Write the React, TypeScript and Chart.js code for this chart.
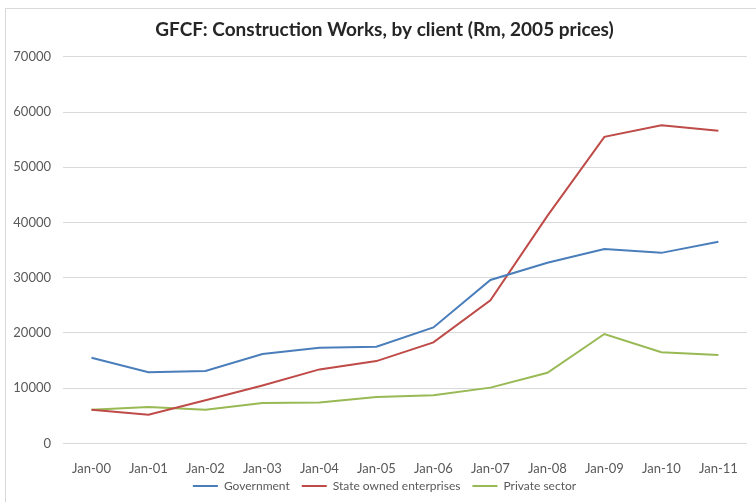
import React, { useEffect, useRef } from "react";
import { Chart, registerables } from "chart.js";

Chart.register(...registerables);

const categories = ["Jan-00", "Jan-01", "Jan-02", "Jan-03", "Jan-04", "Jan-05", "Jan-06", "Jan-07", "Jan-08", "Jan-09", "Jan-10", "Jan-11"];
const government = [15500, 12900, 13100, 16200, 17300, 17500, 21000, 29600, 32700, 35200, 34500, 36500];
const stateOwned = [6100, 5200, 7800, 10500, 13400, 14900, 18300, 25900, 41200, 55500, 57600, 56600];
const privateSector = [6100, 6600, 6100, 7300, 7400, 8400, 8700, 10100, 12800, 19800, 16500, 16000];
const yTicks = [0, 10000, 20000, 30000, 40000, 50000, 60000, 70000];
const titleText = "GFCF: Construction Works, by client (Rm, 2005 prices)";

const shiftBlocks = {
  id: "shiftBlocks",
  afterLayout(chart: any) {
    const t = chart.titleBlock;
    if (t) {
      t.left = 18;
      t.right = 751;
    }
    const l = chart.legend;
    if (l) {
      l.left = 18;
      l.right = 751;
      l.top -= 27;
      l.bottom -= 27;
    }
  },
};

export default function App() {
  const ref = useRef<HTMLCanvasElement | null>(null);
  useEffect(() => {
    if (!ref.current) return;
    const font = "Lato, 'Open Sans', sans-serif";
    const chart = new Chart(ref.current, {
      type: "line",
      data: {
        labels: categories,
        datasets: [
          { label: "Government", data: government, borderColor: "#4A7EBB", backgroundColor: "#4A7EBB", borderWidth: 2, pointRadius: 0, tension: 0 },
          { label: "State owned enterprises", data: stateOwned, borderColor: "#BE4B48", backgroundColor: "#BE4B48", borderWidth: 2, pointRadius: 0, tension: 0 },
          { label: "Private sector", data: privateSector, borderColor: "#98B954", backgroundColor: "#98B954", borderWidth: 2, pointRadius: 0, tension: 0 },
        ],
      },
      options: {
        animation: false,
        responsive: false,
        maintainAspectRatio: false,
        layout: { padding: { left: 0, right: 5, top: 0, bottom: -27 } },
        plugins: {
          title: {
            display: true,
            text: titleText,
            color: "#262626",
            font: { family: font, size: 19, weight: "bold" },
            padding: { top: 18, bottom: 16 },
          },
          legend: {
            position: "bottom",
            labels: {
              usePointStyle: true,
              pointStyle: "line",
              pointStyleWidth: 25,
              font: { family: font, size: 12 },
              color: "#595959",
              padding: 12,
            },
          },
          tooltip: { enabled: false },
        },
        scales: {
          x: {
            offset: true,
            grid: { display: false, drawTicks: false },
            border: { display: false },
            ticks: { color: "#595959", font: { family: font, size: 13 }, padding: 18, maxRotation: 0, autoSkip: false },
          },
          y: {
            min: 0,
            max: 70000,
            afterBuildTicks: (s: any) => { s.ticks = yTicks.map((v) => ({ value: v })); },
            afterFit: (s: any) => { s.width = 63; },
            grid: { color: "#D9D9D9", drawTicks: false },
            border: { display: false },
            ticks: { color: "#595959", font: { family: font, size: 13 }, padding: 12, callback: (v: any) => String(v) },
          },
        },
      },
      plugins: [shiftBlocks],
    });
    return () => chart.destroy();
  }, []);
  return (
    <div style={{ position: "absolute", left: 0, top: 0, width: 756, height: 502, background: "#fff", overflow: "hidden" }}>
      <div style={{ position: "absolute", left: 5, top: 8, width: 800, height: 600, border: "1px solid #D9D9D9" }} />
      <canvas ref={ref} width={756} height={502} style={{ position: "absolute", left: 0, top: 0 }} />
    </div>
  );
}
